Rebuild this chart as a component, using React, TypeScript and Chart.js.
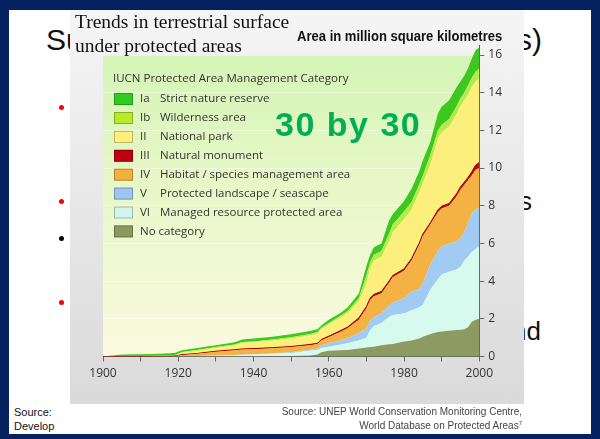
import React, { useEffect, useRef } from "react";
import { Chart, registerables } from "chart.js";

Chart.register(...registerables);

// ---- Data (million km², per category, stacked) ----
const years = [1900, 1905, 1910, 1915, 1919, 1921, 1925, 1930, 1935, 1937, 1940, 1945, 1950, 1955, 1957, 1958, 1960, 1963, 1965, 1968, 1970, 1971, 1972, 1974, 1976, 1977, 1980, 1982, 1984, 1985, 1987, 1989, 1990, 1992, 1994, 1995, 1996, 1997, 1998, 1999, 2000];

const noCategory = [0, 0, 0, 0, 0, 0, 0, 0, 0, 0, 0, 0.02, 0.03, 0.05, 0.1, 0.22, 0.3, 0.33, 0.35, 0.42, 0.48, 0.5, 0.52, 0.6, 0.65, 0.67, 0.8, 0.85, 0.95, 1.05, 1.2, 1.3, 1.33, 1.36, 1.4, 1.42, 1.45, 1.55, 1.85, 1.95, 2.0];
const catVI = [0, 0, 0, 0, 0, 0.01, 0.02, 0.04, 0.06, 0.08, 0.1, 0.12, 0.15, 0.25, 0.25, 0.23, 0.22, 0.29, 0.35, 0.43, 0.52, 0.9, 1.08, 1.18, 1.45, 1.53, 1.48, 1.6, 1.67, 1.7, 2.35, 2.8, 3.02, 3.14, 3.22, 3.33, 3.65, 3.75, 3.7, 3.75, 3.85];
const catV = [0, 0, 0, 0, 0, 0.01, 0.01, 0.01, 0.02, 0.02, 0.02, 0.03, 0.04, 0.06, 0.07, 0.15, 0.18, 0.23, 0.27, 0.4, 0.5, 0.5, 0.5, 0.52, 0.6, 0.65, 0.82, 1.0, 0.98, 1.15, 1.35, 1.5, 1.5, 1.5, 1.48, 1.55, 1.5, 1.8, 2.05, 2.1, 2.05];
const catIV = [0, 0, 0, 0.01, 0.02, 0.06, 0.11, 0.2, 0.25, 0.27, 0.27, 0.27, 0.28, 0.24, 0.24, 0.25, 0.32, 0.45, 0.53, 0.7, 1.05, 1.1, 1.1, 1.05, 1.2, 1.35, 1.45, 1.65, 2.3, 2.5, 2.1, 2.05, 2.0, 2.0, 2.4, 2.55, 2.5, 2.25, 2.0, 2.1, 2.1];
const catIII = [0, 0, 0, 0, 0, 0.02, 0.02, 0.03, 0.03, 0.03, 0.03, 0.03, 0.03, 0.04, 0.04, 0.05, 0.06, 0.06, 0.06, 0.1, 0.1, 0.1, 0.1, 0.1, 0.1, 0.1, 0.1, 0.1, 0.1, 0.1, 0.1, 0.13, 0.13, 0.12, 0.15, 0.15, 0.15, 0.15, 0.2, 0.25, 0.3];
const catII = [0, 0, 0, 0.02, 0.03, 0.1, 0.14, 0.17, 0.24, 0.32, 0.33, 0.37, 0.42, 0.48, 0.52, 0.55, 0.62, 0.69, 0.74, 0.9, 1.25, 1.6, 1.8, 1.85, 2.1, 2.3, 2.65, 2.6, 2.7, 2.7, 3.1, 3.82, 3.92, 4.08, 4.25, 4.3, 4.35, 4.4, 4.5, 4.45, 4.5];
const catIb = [0, 0.02, 0.03, 0.02, 0.02, 0.04, 0.04, 0.05, 0.04, 0.05, 0.05, 0.06, 0.07, 0.08, 0.08, 0.07, 0.08, 0.1, 0.12, 0.15, 0.4, 0.3, 0.3, 0.3, 0.4, 0.4, 0.4, 0.4, 0.4, 0.4, 0.5, 0.4, 0.4, 0.4, 0.4, 0.4, 0.4, 0.5, 0.5, 0.5, 0.5];
const catIa = [0, 0.08, 0.09, 0.1, 0.11, 0.09, 0.11, 0.1, 0.11, 0.13, 0.15, 0.15, 0.16, 0.15, 0.15, 0.13, 0.17, 0.15, 0.18, 0.25, 0.5, 0.4, 0.4, 0.4, 0.7, 0.55, 0.55, 0.7, 0.7, 0.8, 0.7, 0.9, 0.95, 1.0, 1.0, 0.9, 0.9, 0.9, 1.0, 1.15, 1.1];

// bottom -> top stacking order
const seriesValues = [noCategory, catVI, catV, catIV, catIII, catII, catIb, catIa];
const seriesCodes = ["", "VI", "V", "IV", "III", "II", "Ib", "Ia"];
const seriesNames = [
  "No category",
  "Managed resource protected area",
  "Protected landscape / seascape",
  "Habitat / species management area",
  "Natural monument",
  "National park",
  "Wilderness area",
  "Strict nature reserve",
];
const seriesColors = ["#8d9a62", "#d6fbee", "#a2cbf4", "#f4b144", "#b80c0c", "#fdef7c", "#b4ea4a", "#3cc81f"];
const swatchColors = ["#8c9a5c", "#d4f5ec", "#9cc7f2", "#f3b03a", "#c00010", "#fff07c", "#b6ea2a", "#2fcc1f"];

const legendTitle = "IUCN Protected Area Management Category";
const yTicks = [0, 2, 4, 6, 8, 10, 12, 14, 16];
const xLabelYears = [1900, 1920, 1940, 1960, 1980, 2000];

const bgPlugin = {
  id: "plotBackground",
  beforeDraw(chart: any) {
    const { ctx, chartArea } = chart;
    const y16 = chart.scales.y.getPixelForValue(16);
    const g = ctx.createLinearGradient(0, y16, 0, chartArea.bottom);
    g.addColorStop(0, "#d4f5b6");
    g.addColorStop(0.45, "#e8f7c8");
    g.addColorStop(1, "#fafadf");
    ctx.save();
    ctx.fillStyle = g;
    ctx.fillRect(chartArea.left, y16, chartArea.right - chartArea.left, chartArea.bottom - y16);
    ctx.restore();
  },
};

const legendPlugin = {
  id: "insideLegend",
  beforeDatasetsDraw(chart: any) {
    const { ctx, chartArea } = chart;
    const left = chartArea.left;
    const top = chartArea.top;
    ctx.save();
    ctx.textBaseline = "middle";
    ctx.fillStyle = "#333";
    ctx.font = '11.5px "Open Sans"';
    ctx.fillText(legendTitle, left + 10, top + 33.5);
    const n = seriesCodes.length;
    for (let k = 0; k < n; k++) {
      const i = n - 1 - k;
      const cy = top + 53.5 + k * 18.9;
      ctx.fillStyle = swatchColors[i];
      ctx.fillRect(left + 11, cy - 6, 19, 12);
      ctx.strokeStyle = "rgba(0,0,0,0.25)";
      ctx.lineWidth = 1;
      ctx.strokeRect(left + 11.5, cy - 5.5, 18, 11);
      ctx.fillStyle = "#333";
      if (seriesCodes[i]) {
        ctx.fillText(seriesCodes[i], left + 37, cy);
        ctx.fillText(seriesNames[i], left + 57, cy);
      } else {
        ctx.fillText(seriesNames[i], left + 37, cy);
      }
    }
    ctx.restore();
  },
};

export default function App() {
  const ref = useRef<HTMLCanvasElement>(null);

  useEffect(() => {
    document.body.style.margin = "0";
    const datasets = seriesValues.map((vals, i) => ({
      label: (seriesCodes[i] ? seriesCodes[i] + " " : "") + seriesNames[i],
      data: years.map((x, j) => ({ x, y: vals[j] })),
      backgroundColor: seriesColors[i],
      borderColor: i === 4 ? "#9e0000" : seriesColors[i],
      borderWidth: i === 4 ? 1 : 0,
      fill: i === 0 ? "origin" : "-1",
      pointRadius: 0,
      tension: 0,
    }));
    const chart = new Chart(ref.current as HTMLCanvasElement, {
      type: "line",
      data: { datasets },
      plugins: [bgPlugin, legendPlugin],
      options: {
        animation: false,
        responsive: false,
        devicePixelRatio: 1,
        layout: { padding: { left: 103, top: 45.6, right: 90.7, bottom: 52.5 } },
        plugins: { legend: { display: false }, tooltip: { enabled: false } },
        scales: {
          x: {
            type: "linear",
            min: 1900,
            max: 2000,
            afterFit: (s: any) => { s.height = 30; },
            grid: { drawOnChartArea: false, tickLength: 5, tickColor: "#666" },
            border: { display: true, color: "#666", width: 1 },
            ticks: {
              stepSize: 10,
              autoSkip: false,
              maxRotation: 0,
              padding: 5,
              color: "#333",
              font: { family: "Open Sans", size: 12 },
              callback: (v: any) => (xLabelYears.includes(Number(v)) ? String(v) : ""),
            },
          },
          y: {
            type: "linear",
            position: "right",
            stacked: true,
            min: 0,
            max: 16.5,
            afterFit: (s: any) => { s.width = 30; },
            afterBuildTicks: (s: any) => { s.ticks = yTicks.map((v) => ({ value: v })); },
            grid: { drawOnChartArea: true, color: "rgba(255,255,255,0.45)", tickLength: 5, tickColor: "#666" },
            border: { display: true, color: "#666", width: 1 },
            ticks: {
              padding: 4,
              color: "#333",
              font: { family: "Open Sans", size: 12 },
            },
          },
        },
      },
    });
    return () => chart.destroy();
  }, []);

  const abs = (s: any) => ({ position: "absolute" as const, margin: 0, whiteSpace: "nowrap" as const, ...s });
  const dot = (x: number, y: number, c: string) => (
    <div style={abs({ left: x - 2.5, top: y - 2.5, width: 5, height: 5, borderRadius: "50%", background: c })} />
  );

  return (
    <div style={{ position: "relative", width: 600, height: 439, background: "#06215f", overflow: "hidden" }}>
      <div style={abs({ left: 9, top: 10, width: 582, height: 424, background: "#ffffff" })} />
      {/* slide background text */}
      <div style={abs({ left: 46, top: 25, font: '30px "Liberation Sans"', lineHeight: "30px", color: "#111" })}>Su</div>
      <div style={abs({ left: 517, top: 25, font: '30px "Liberation Sans"', lineHeight: "30px", color: "#111" })}>s)</div>
      <div style={abs({ left: 519, top: 188, font: '26px "Liberation Sans"', lineHeight: "26px", color: "#111" })}>s</div>
      <div style={abs({ left: 512, top: 318, font: '26px "Liberation Sans"', lineHeight: "26px", color: "#111" })}>nd</div>
      {dot(61, 107, "#ff0000")}
      {dot(61, 201, "#ff0000")}
      {dot(61, 238, "#000000")}
      {dot(61, 302, "#ff0000")}
      <div style={abs({ left: 14, top: 405, font: '11px "Liberation Sans"', lineHeight: "14px", color: "#111" })}>
        Source:<br />Develop
      </div>
      {/* chart panel */}
      <div style={abs({ left: 70, top: 10, width: 454, height: 394, background: "linear-gradient(#f5f5f5, #dadada)" })} />
      <canvas ref={ref} width={600} height={439} style={{ position: "absolute", left: 0, top: 0 }} />
      <div style={abs({ left: 75, top: 10.4, font: '19.5px "Liberation Serif"', lineHeight: "24px", color: "#111" })}>
        Trends in terrestrial surface<br />under protected areas
      </div>
      <div style={abs({ left: 297, top: 28.3, font: 'bold 15px "Liberation Sans"', lineHeight: "15px", color: "#111", transform: "scaleX(0.87)", transformOrigin: "left top" })}>
        Area in million square kilometres
      </div>
      <div style={abs({ left: 275, top: 107, font: 'bold 34px "Liberation Sans"', lineHeight: "34px", letterSpacing: "1.5px", color: "#00b050" })}>
        30 by 30
      </div>
      <div style={abs({ right: 78, top: 405, font: '10px "Liberation Sans"', lineHeight: "14px", color: "#444", textAlign: "right" })}>
        Source: UNEP World Conservation Monitoring Centre,<br />World Database on Protected Areas<sup style={{ fontSize: 6, lineHeight: 0 }}>7</sup>
      </div>
    </div>
  );
}
